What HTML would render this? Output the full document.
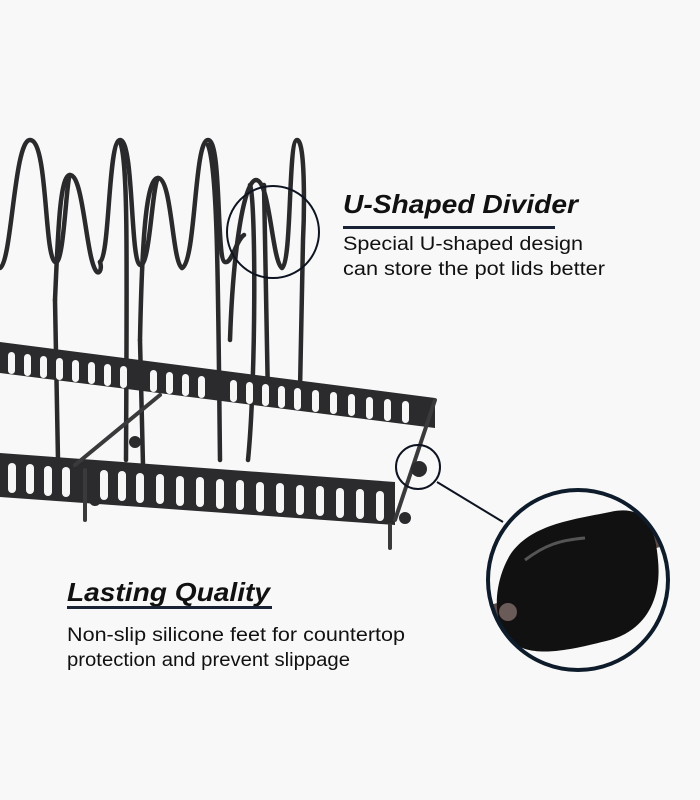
<!DOCTYPE html>
<html><head><meta charset="utf-8"><style>
html,body{margin:0;padding:0;background:#f8f8f8}
svg{display:block}
</style></head><body>
<svg width="700" height="800" viewBox="0 0 700 800" xmlns="http://www.w3.org/2000/svg">
<rect width="700" height="800" fill="#f8f8f8"/>
<defs>
<clipPath id="bigc"><circle cx="578" cy="580" r="90"/></clipPath>
</defs>
<g fill="none" stroke="#2a2a2c" stroke-width="4.5" stroke-linecap="round" stroke-linejoin="round">
<path d="M0 268 C12 262 14 140 30 140 C48 140 44 255 55 262 C64 268 66 180 70 175"/>
<path d="M100 262 C110 255 108 140 120 140 C134 140 130 260 140 265 C150 268 152 185 158 178"/>
<path d="M182 268 C196 262 194 140 208 140 C222 140 216 260 225 262 C232 264 236 240 244 235"/>
<path d="M282 268 C292 262 288 140 297 140 C306 140 304 220 303 240 L300 390"/>
<path d="M55 300 C58 230 60 175 70 175 C84 175 86 262 97 272 C100 274 102 268 100 262"/>
<path d="M140 340 C142 240 146 178 158 178 C172 178 172 262 182 268"/>
<path d="M230 340 C233 250 244 180 256 180 C270 180 272 262 282 268"/>
<path d="M55 300 L58 460"/>
<path d="M120 142 C128 160 127 250 126 460"/>
<path d="M140 340 L143 465"/>
<path d="M208 145 C218 170 218 290 220 460"/>
<path d="M250 185 C256 200 256 380 248 460"/>
<path d="M264 185 L268 400"/>
</g>
<polygon points="0,342 435,398 435,428 0,373" fill="#2b2b2e"/>
<polygon points="0,453 395,482 395,525 0,497" fill="#2b2b2e"/>
<g fill="#f6f6f6">
<rect x="8" y="352" width="7" height="22" rx="3.5"/><rect x="24" y="354" width="7" height="22" rx="3.5"/><rect x="40" y="356" width="7" height="22" rx="3.5"/><rect x="56" y="358" width="7" height="22" rx="3.5"/><rect x="72" y="360" width="7" height="22" rx="3.5"/><rect x="88" y="362" width="7" height="22" rx="3.5"/><rect x="104" y="364" width="7" height="22" rx="3.5"/><rect x="120" y="366" width="7" height="22" rx="3.5"/><rect x="150" y="370" width="7" height="22" rx="3.5"/><rect x="166" y="372" width="7" height="22" rx="3.5"/><rect x="182" y="374" width="7" height="22" rx="3.5"/><rect x="198" y="376" width="7" height="22" rx="3.5"/><rect x="230" y="380" width="7" height="22" rx="3.5"/><rect x="246" y="382" width="7" height="22" rx="3.5"/><rect x="262" y="384" width="7" height="22" rx="3.5"/><rect x="278" y="386" width="7" height="22" rx="3.5"/><rect x="294" y="388" width="7" height="22" rx="3.5"/><rect x="312" y="390" width="7" height="22" rx="3.5"/><rect x="330" y="392" width="7" height="22" rx="3.5"/><rect x="348" y="394" width="7" height="22" rx="3.5"/><rect x="366" y="397" width="7" height="22" rx="3.5"/><rect x="384" y="399" width="7" height="22" rx="3.5"/><rect x="402" y="401" width="7" height="22" rx="3.5"/>
<rect x="8" y="463" width="8" height="30" rx="4"/><rect x="26" y="464" width="8" height="30" rx="4"/><rect x="44" y="466" width="8" height="30" rx="4"/><rect x="62" y="467" width="8" height="30" rx="4"/><rect x="100" y="470" width="8" height="30" rx="4"/><rect x="118" y="471" width="8" height="30" rx="4"/><rect x="136" y="473" width="8" height="30" rx="4"/><rect x="156" y="474" width="8" height="30" rx="4"/><rect x="176" y="476" width="8" height="30" rx="4"/><rect x="196" y="477" width="8" height="30" rx="4"/><rect x="216" y="479" width="8" height="30" rx="4"/><rect x="236" y="480" width="8" height="30" rx="4"/><rect x="256" y="482" width="8" height="30" rx="4"/><rect x="276" y="483" width="8" height="30" rx="4"/><rect x="296" y="485" width="8" height="30" rx="4"/><rect x="316" y="486" width="8" height="30" rx="4"/><rect x="336" y="488" width="8" height="30" rx="4"/><rect x="356" y="489" width="8" height="30" rx="4"/><rect x="376" y="491" width="8" height="30" rx="4"/>
</g>
<g stroke="#3a3a3c" stroke-width="4" stroke-linecap="round" fill="none">
<path d="M75 465 L160 395"/><path d="M395 520 L435 400"/><path d="M85 470 L85 520"/><path d="M390 525 L390 548"/>
</g>
<circle cx="135" cy="442" r="6" fill="#2b2b2e"/><circle cx="95" cy="500" r="6" fill="#2b2b2e"/><circle cx="405" cy="518" r="6" fill="#2b2b2e"/>
<circle cx="419" cy="469" r="8" fill="#2b2b2e"/>
<g fill="none" stroke="#0d1320" stroke-width="2">
<circle cx="273" cy="232" r="46"/>
<circle cx="418" cy="467" r="22"/>
<path d="M437 482 L503 522"/>
</g>
<circle cx="578" cy="580" r="90" fill="#f8f8f8"/>
<g clip-path="url(#bigc)">
<rect x="490" y="600" width="40" height="22" fill="#5a4a48" transform="rotate(-15 510 611)"/>
<rect x="640" y="530" width="30" height="18" fill="#5a4a48" transform="rotate(-15 655 539)"/>
<path d="M510 555 C530 525 570 520 610 512 C640 505 655 520 658 560 C662 600 645 630 610 640 C570 650 530 660 510 640 C490 620 495 580 510 555 Z" fill="#111"/>
<path d="M525 560 C545 545 560 540 585 538" stroke="#555" stroke-width="3" fill="none"/>
<circle cx="508" cy="612" r="9" fill="#6a5a58"/>
</g>
<circle cx="578" cy="580" r="90" fill="none" stroke="#0d1b2a" stroke-width="4"/>
<g font-family="Liberation Sans, sans-serif" fill="#111">
<text x="343" y="213" font-size="26" font-weight="bold" font-style="italic" textLength="235" lengthAdjust="spacingAndGlyphs">U-Shaped Divider</text>
<text x="343" y="250" font-size="19" textLength="240" lengthAdjust="spacingAndGlyphs">Special U-shaped design</text>
<text x="343" y="275" font-size="19" textLength="262" lengthAdjust="spacingAndGlyphs">can store the pot lids better</text>
<text x="67" y="601" font-size="26" font-weight="bold" font-style="italic" textLength="203" lengthAdjust="spacingAndGlyphs">Lasting Quality</text>
<text x="67" y="641" font-size="19" textLength="338" lengthAdjust="spacingAndGlyphs">Non-slip silicone feet for countertop</text>
<text x="67" y="666" font-size="19" textLength="283" lengthAdjust="spacingAndGlyphs">protection and prevent slippage</text>
</g>
<rect x="343" y="226" width="212" height="3" fill="#1a2235"/>
<rect x="67" y="606" width="205" height="3" fill="#1a2235"/>
</svg>
</body></html>
